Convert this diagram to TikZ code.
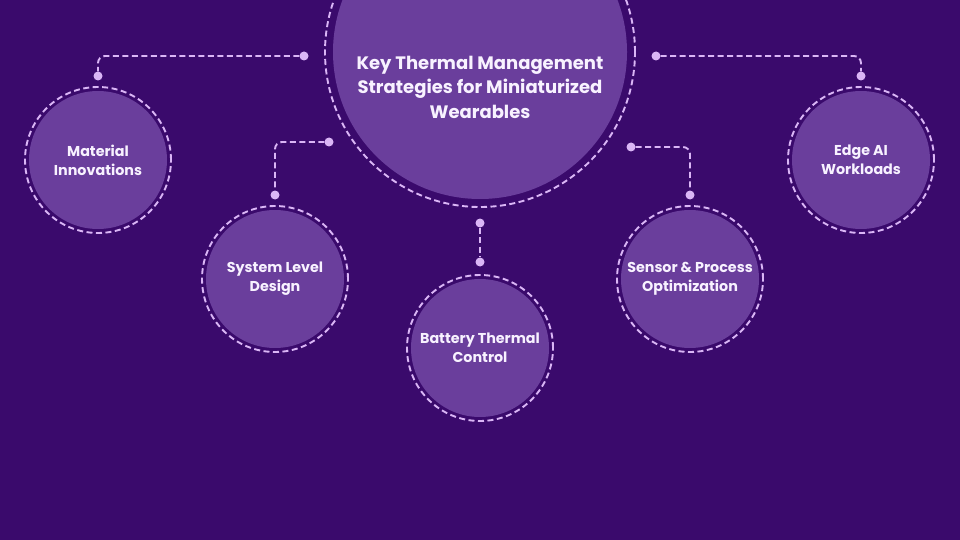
\documentclass[tikz,border=0pt]{standalone}
\usepackage{fontspec}
\setmainfont{Poppins}
\usetikzlibrary{positioning}
\definecolor{bgPurple}{RGB}{58,10,108}
\definecolor{discPurple}{RGB}{106,62,156}
\definecolor{ringLilac}{RGB}{218,182,246}
\definecolor{textWhite}{RGB}{248,242,255}
\tikzset{
  disc/.style={circle,fill=discPurple,inner sep=0pt},
  ring/.style={circle,draw=ringLilac,line width=1.9pt,dash pattern=on 6pt off 3.5pt,inner sep=0pt},
  conn/.style={draw=ringLilac,line width=1.9pt,dash pattern=on 6pt off 3.5pt,rounded corners=7pt},
  dot/.style={circle,fill=ringLilac,inner sep=0pt,minimum size=9pt},
  topicText/.style={text=textWhite,font=\bfseries\fontsize{14.3}{19}\selectfont,align=center}
}
\newcommand{\tikzTopicNode}[3]{
  \node[disc,minimum size=138pt] (#1) at (#2) {};
  \node[ring,minimum size=146pt] (#1-ring) at (#2) {};
  \node[topicText] (#1-text) at (#2) {#3};
}

\begin{document}
\begin{tikzpicture}[x=1pt,y=-1pt]
  \useasboundingbox[fill=bgPurple] (0,0) rectangle (960,540);

  % central topic
  \node[disc,minimum size=294pt] (hub) at (480,52) {};
  \node[ring,minimum size=310pt] (hub-ring) at (480,52) {};
  \node[topicText,font=\bfseries\fontsize{18}{24.5}\selectfont] (hub-text) at (480,87)
    {Key Thermal Management\\Strategies for Miniaturized\\Wearables};

  \tikzTopicNode{mat}{98,160}{Material\\Innovations}
  \tikzTopicNode{sys}{275,279}{System Level\\Design}
  \tikzTopicNode{bat}{480,348}{Battery Thermal\\Control}
  \tikzTopicNode{sen}{690,279}{Sensor \& Process\\Optimization}
  \tikzTopicNode{edge}{861,160}{Edge AI\\Workloads}

  % connectors
  \node[dot] (mat-a) at (304,56) {};
  \node[dot] (mat-b) at (98,76) {};
  \draw[conn] (mat-a) -| (mat-b);

  \node[dot] (sys-a) at (329,142) {};
  \node[dot] (sys-b) at (275,195) {};
  \draw[conn] (sys-a) -| (sys-b);

  \node[dot] (bat-a) at (480,223) {};
  \node[dot] (bat-b) at (480,262) {};
  \draw[conn] (bat-a) -- (bat-b);

  \node[dot] (sen-a) at (631,147) {};
  \node[dot] (sen-b) at (690,195) {};
  \draw[conn] (sen-a) -| (sen-b);

  \node[dot] (edge-a) at (656,56) {};
  \node[dot] (edge-b) at (861,76) {};
  \draw[conn] (edge-a) -| (edge-b);
\end{tikzpicture}
\end{document}
